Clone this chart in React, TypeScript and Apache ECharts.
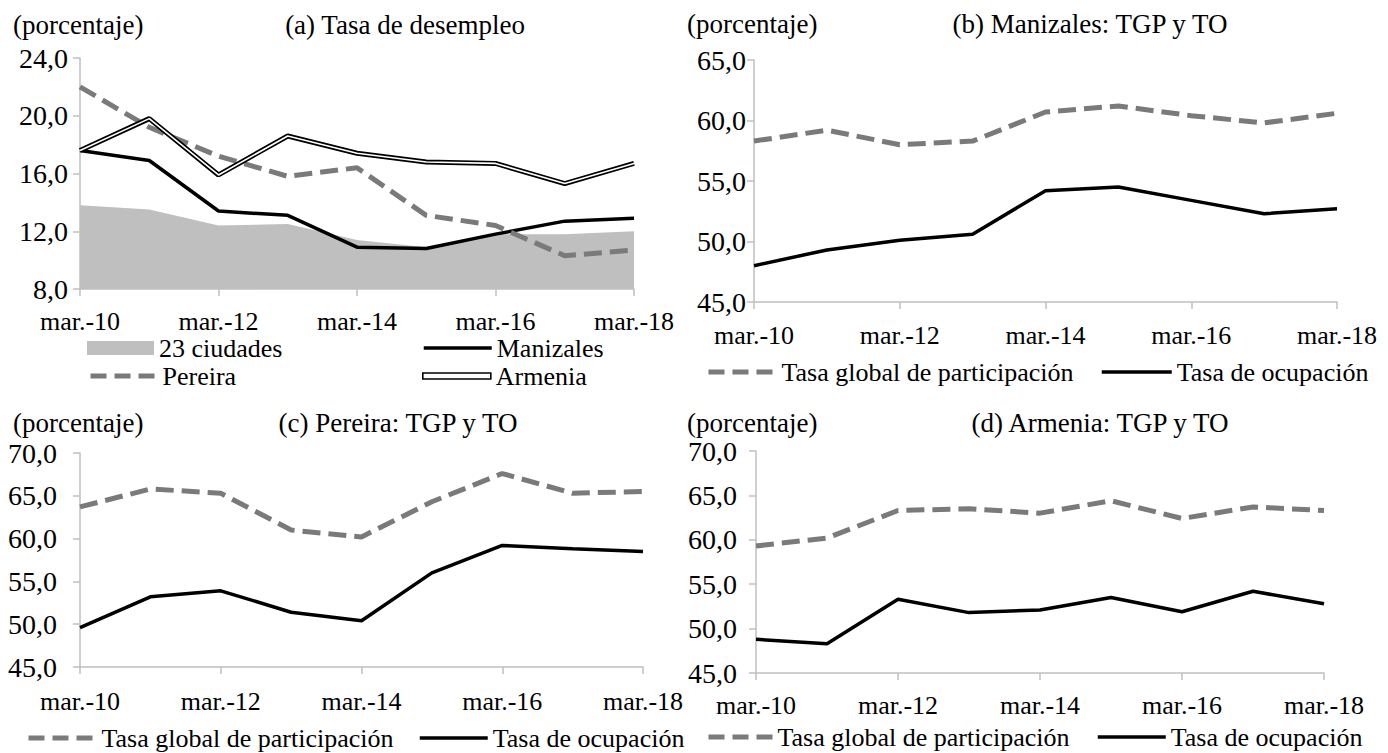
import React, { useEffect, useRef } from "react";
import * as echarts from "echarts";

const categories = ["mar.-10", "mar.-11", "mar.-12", "mar.-13", "mar.-14", "mar.-15", "mar.-16", "mar.-17", "mar.-18"];

// (a) Tasa de desempleo
const ciudades23 = [13.8, 13.5, 12.4, 12.5, 11.4, 10.9, 11.8, 11.8, 12.0];
const manizalesTD = [17.6, 16.9, 13.4, 13.1, 10.9, 10.8, 11.8, 12.7, 12.9];
const pereiraTD = [22.0, 19.2, 17.2, 15.8, 16.4, 13.1, 12.4, 10.3, 10.7];
const armeniaTD = [17.6, 19.8, 15.9, 18.6, 17.4, 16.8, 16.7, 15.3, 16.7];

// (b) Manizales
const manizalesTGP = [58.3, 59.2, 58.0, 58.3, 60.7, 61.2, 60.4, 59.8, 60.6];
const manizalesTO = [48.0, 49.3, 50.1, 50.6, 54.2, 54.5, 53.4, 52.3, 52.7];

// (c) Pereira
const pereiraTGP = [63.7, 65.8, 65.3, 61.0, 60.2, 64.3, 67.6, 65.3, 65.5];
const pereiraTO = [49.6, 53.2, 53.9, 51.4, 50.4, 56.0, 59.2, 58.8, 58.5];

// (d) Armenia
const armeniaTGP = [59.3, 60.2, 63.3, 63.5, 63.0, 64.4, 62.4, 63.7, 63.3];
const armeniaTO = [48.8, 48.3, 53.3, 51.8, 52.1, 53.5, 51.9, 54.2, 52.8];

const titles = ["(a) Tasa de desempleo", "(b) Manizales: TGP y TO", "(c) Pereira: TGP y TO", "(d) Armenia: TGP y TO"];
const unitLabel = "(porcentaje)";
const TGP = "Tasa global de participación";
const TO = "Tasa de ocupación";

const FONT = "Liberation Serif";
const AXIS_COLOR = "#bfbfbf";
const DASH_COLOR = "#7a7a7a";

const fmt = (v: number) => v.toFixed(1).replace(".", ",");

function xAxis(gridIndex: number, margin: number) {
  return {
    type: "category",
    gridIndex,
    data: categories,
    boundaryGap: false,
    axisLine: { show: true, lineStyle: { color: AXIS_COLOR, width: 1.5 } },
    axisTick: { show: true, interval: 1, length: 7, lineStyle: { color: AXIS_COLOR, width: 1.5 } },
    axisLabel: { interval: 1, color: "#000", fontSize: 26, fontFamily: FONT, margin },
    splitLine: { show: false },
  };
}

function yAxis(gridIndex: number, min: number, max: number, interval: number, margin: number) {
  return {
    type: "value",
    gridIndex,
    min,
    max,
    interval,
    axisLine: { show: true, lineStyle: { color: AXIS_COLOR, width: 1.5 } },
    axisTick: { show: true, length: 7, lineStyle: { color: AXIS_COLOR, width: 1.5 } },
    axisLabel: { color: "#000", fontSize: 28, fontFamily: FONT, margin, formatter: fmt },
    splitLine: { show: false },
  };
}

const dashed = { color: DASH_COLOR, width: 5, type: [18, 8] as number[] };
const solid = { color: "#000", width: 3.5 };

function lineSeries(name: string, idx: number, data: number[], lineStyle: any, z = 2) {
  return {
    type: "line",
    name,
    xAxisIndex: idx,
    yAxisIndex: idx,
    data,
    symbol: "none",
    showSymbol: false,
    color: lineStyle.color,
    lineStyle,
    z,
    silent: true,
  };
}

function legend(name: string, left: number, top: number, itemWidth: number, itemHeight: number, lineStyle: any, extra: any = {}) {
  return {
    left,
    top,
    padding: 0,
    itemWidth,
    itemHeight,
    selectedMode: false,
    textStyle: { color: "#000", fontSize: 26, fontFamily: FONT },
    itemStyle: { opacity: 0 },
    lineStyle: lineStyle || {},
    data: [{ name, ...extra }],
  };
}

function textEl(text: string, x: number, y: number, align: string) {
  return {
    type: "text",
    x,
    y: y - 14,
    style: {
      text,
      fill: "#000",
      fontSize: 27,
      fontFamily: FONT,
      align,
    },
  };
}

export default function App() {
  const ref = useRef<HTMLDivElement>(null);
  useEffect(() => {
    if (!ref.current) return;
    const chart = echarts.init(ref.current, null, { renderer: "svg" });
    const dashLegend = { color: DASH_COLOR, width: 5, type: [16, 8] };
    const solidLegend = { color: "#000", width: 3.5, type: "solid" };
    const option: any = {
      animation: false,
      grid: [
        { left: 80, top: 58, width: 554, height: 231 },
        { left: 754, top: 60, width: 583, height: 242 },
        { left: 80, top: 453, width: 563, height: 214 },
        { left: 756, top: 451, width: 568, height: 222 },
      ],
      xAxis: [xAxis(0, 19), xAxis(1, 20), xAxis(2, 21), xAxis(3, 19)],
      yAxis: [yAxis(0, 8, 24, 4, 12), yAxis(1, 45, 65, 5, 8), yAxis(2, 45, 70, 5, 23), yAxis(3, 45, 70, 5, 19)],
      legend: [
        legend("23 ciudades", 87, 335, 67, 14, null, { icon: "rect", itemStyle: { color: "#bfbfbf", opacity: 1 } }),
        legend("Manizales", 422, 335, 68, 14, solidLegend),
        legend("Pereira", 88, 363, 67, 14, dashLegend),
        legend("Armenia", 422, 363, 68, 6, null, {
          icon: "rect",
          itemStyle: { color: "#fff", borderColor: "#000", borderWidth: 1.6, opacity: 1 },
        }),
        legend(TGP, 706, 359, 68, 14, dashLegend),
        legend(TO, 1100, 359, 70, 14, solidLegend),
        legend(TGP, 26, 725, 68, 14, dashLegend),
        legend(TO, 418, 725, 68, 14, solidLegend),
        legend(TGP, 706, 724, 64, 14, dashLegend),
        legend(TO, 1096, 724, 68, 14, solidLegend),
      ],
      graphic: [
        textEl(unitLabel, 13, 25, "left"),
        textEl(titles[0], 405, 25, "center"),
        textEl(unitLabel, 687, 24, "left"),
        textEl(titles[1], 1090, 24, "center"),
        textEl(unitLabel, 13, 423, "left"),
        textEl(titles[2], 398, 423, "center"),
        textEl(unitLabel, 687, 423, "left"),
        textEl(titles[3], 1100, 423, "center"),
      ],
      series: [
        {
          type: "line",
          name: "23 ciudades",
          xAxisIndex: 0,
          yAxisIndex: 0,
          data: ciudades23,
          symbol: "none",
          showSymbol: false,
          color: "#bfbfbf",
          lineStyle: { width: 0, color: "#bfbfbf" },
          areaStyle: { color: "#bfbfbf", opacity: 1 },
          z: 1,
          silent: true,
        },
        lineSeries("Manizales", 0, manizalesTD, solid, 2),
        lineSeries("Pereira", 0, pereiraTD, dashed, 3),
        lineSeries("Armenia", 0, armeniaTD, { color: "#000", width: 5 }, 4),
        lineSeries("Armenia-inner", 0, armeniaTD, { color: "#fff", width: 1.6 }, 5),
        lineSeries(TGP, 1, manizalesTGP, dashed),
        lineSeries(TO, 1, manizalesTO, solid),
        lineSeries(TGP, 2, pereiraTGP, dashed),
        lineSeries(TO, 2, pereiraTO, solid),
        lineSeries(TGP, 3, armeniaTGP, dashed),
        lineSeries(TO, 3, armeniaTO, solid),
      ],
    };
    chart.setOption(option);
    return () => chart.dispose();
  }, []);
  return (
    <div
      ref={ref}
      style={{ position: "fixed", left: 0, top: 0, width: 1388, height: 753, background: "#fff" }}
    />
  );
}
